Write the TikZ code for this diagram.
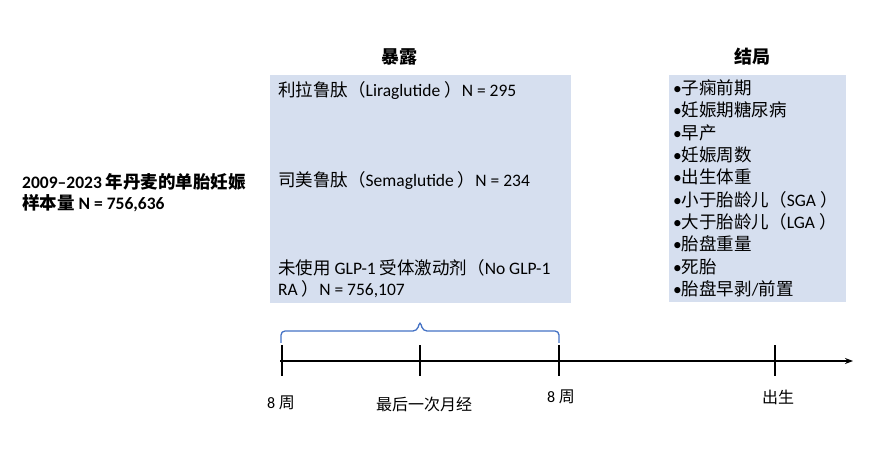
\documentclass[tikz,border=0pt]{standalone}
\usepackage{fontspec}
\setmainfont{Carlito}
\newfontfamily\cjk{Noto Sans CJK SC}
\usetikzlibrary{arrows.meta}
\definecolor{boxfill}{HTML}{D6DFEF}
\definecolor{bracecol}{HTML}{4472C4}
\tikzset{
  boxarea/.style={fill=boxfill, draw=none},
  txt/.style={font=\fontsize{17.5}{20}\selectfont, inner sep=0pt, anchor=west},
  ttl/.style={font=\fontsize{18}{21}\selectfont\bfseries, inner sep=0pt},
  tick/.style={line width=1.3pt},
  axis/.style={line width=1.3pt, -{Stealth[length=8pt,width=6pt]}},
  lbl/.style={font=\fontsize{16}{19}\selectfont, inner sep=0pt}
}
\begin{document}
\begin{tikzpicture}[x=1pt,y=-1pt]
\useasboundingbox (0,0) rectangle (884,470);
% boxes
\node[boxarea, minimum width=301pt, minimum height=228pt, anchor=north west, inner sep=0pt] (expbox) at (270,75) {};
\node[boxarea, minimum width=177pt, minimum height=227pt, anchor=north west, inner sep=0pt] (outbox) at (669,75) {};
% titles
\node[ttl] (exptitle) at (399,57) {\cjk 暴露};
\node[ttl] (outtitle) at (752,57) {\cjk 结局};
% left text
\node[txt, font=\fontsize{17.5}{20}\selectfont\bfseries] (pop1) at (22,182) {2009–2023 {\cjk 年丹麦的单胎妊娠}};
\node[txt, font=\fontsize{17.5}{20}\selectfont\bfseries] (pop2) at (22,203) {{\cjk 样本量} N = 756,636};
% exposure text
\node[txt] (lira) at (278,91) {{\cjk 利拉鲁肽（}Liraglutide {\cjk ）}N = 295};
\node[txt] (sema) at (278,181) {{\cjk 司美鲁肽（}Semaglutide {\cjk ）}N = 234};
\node[txt] (none1) at (278,268) {{\cjk 未使用} GLP-1 {\cjk 受体激动剂（}No GLP-1};
\node[txt] (none2) at (278,289) {RA {\cjk ）}N = 756,107};
% outcomes
\foreach \i/\t in {0/{\cjk 子痫前期},1/{\cjk 妊娠期糖尿病},2/{\cjk 早产},3/{\cjk 妊娠周数},4/{\cjk 出生体重},5/{{\cjk 小于胎龄儿（}SGA {\cjk ）}},6/{{\cjk 大于胎龄儿（}LGA {\cjk ）}},7/{\cjk 胎盘重量},8/{\cjk 死胎},9/{{\cjk 胎盘早剥}/{\cjk 前置}}}{
  \node[txt] (out\i) at (673,88+22.3*\i) {•\t};
}
% timeline
\coordinate (t0) at (282,361);
\coordinate (t1) at (420,361);
\coordinate (t2) at (559,361);
\coordinate (t3) at (775,361);
\coordinate (tend) at (853,361);
\draw[axis] (280,361) -- (tend);
\foreach \c in {t0,t1,t2,t3}{
  \draw[tick] ([yshift=-15pt]\c) -- ([yshift=16pt]\c);
}
% brace
\draw[bracecol, line width=1.3pt, rounded corners=4pt]
  (281,343) -- (281,331) -- (417,331) -- (420,321) -- (423,331) -- (559,331) -- (559,343);
% labels
\node[lbl] (l0) at (281,403) {8 {\cjk 周}};
\node[lbl] (l1) at (424,404) {\cjk 最后一次月经};
\node[lbl] (l2) at (561,397) {8 {\cjk 周}};
\node[lbl] (l3) at (778,397) {\cjk 出生};
\end{tikzpicture}
\end{document}
